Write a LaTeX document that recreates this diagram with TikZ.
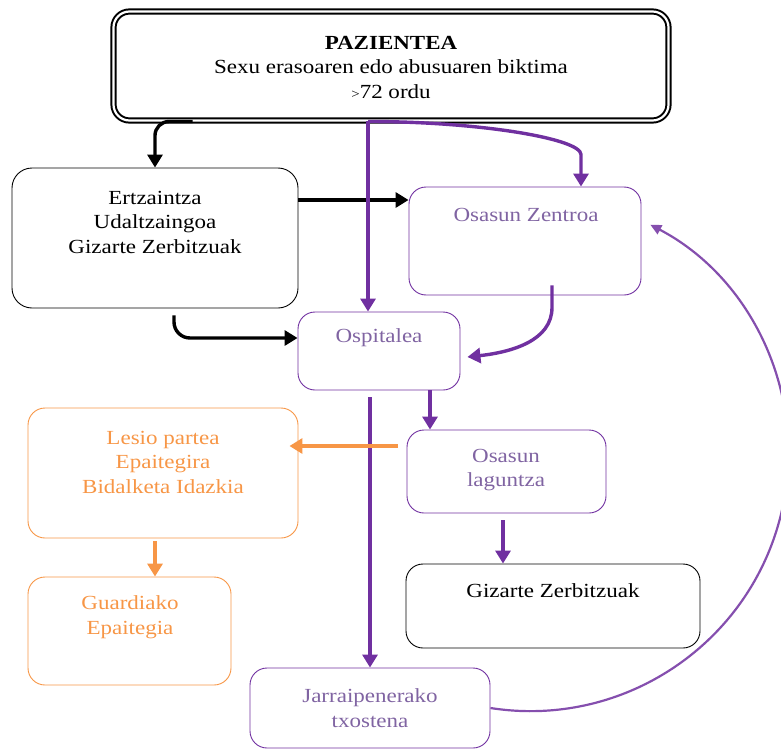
\documentclass[tikz,border=0pt]{standalone}
\usepackage{fontspec}
\setmainfont{Liberation Serif}[FakeStretch=1.15]
\usetikzlibrary{arrows.meta,calc}
\definecolor{purp}{HTML}{7030A0}
\definecolor{ptext}{HTML}{8064A2}
\definecolor{orng}{HTML}{F79646}
\begin{document}
\begin{tikzpicture}[x=1pt,y=-1pt,
  bx/.style={draw, line width=0.9pt, rounded corners=17pt, inner sep=0pt},
  blackbox/.style={bx, draw=black},
  purpbox/.style={bx, draw=purp},
  orngbox/.style={bx, draw=orng},
  txt/.style={align=center, inner sep=0pt, font=\fontsize{20}{24.5}\selectfont},
  ba/.style={line width=3.4pt, draw=black, -{Triangle[length=13pt,width=15pt]}},
  pa/.style={line width=3.4pt, draw=purp, -{Triangle[length=13pt,width=15pt]}},
  oa/.style={line width=3.4pt, draw=orng, -{Triangle[length=13pt,width=15pt]}},
  thinarc/.style={line width=2.2pt, draw=purp!85, -{Triangle[length=11pt,width=10pt]}}]
\useasboundingbox (0,0) rectangle (781,749);
\clip (0,0) rectangle (781,749);
% boxes
\node[draw, double, line width=2pt, double distance=2.2pt, rounded corners=16pt,
      minimum width=555pt, minimum height=109pt] (pac) at (391,66) {};
\node[txt] (pact) at (391,67) {\textbf{PAZIENTEA}\\Sexu erasoaren edo abusuaren biktima\\{\fontsize{13}{13}\selectfont >}72 ordu};
\node[blackbox, rounded corners=20pt, minimum width=286pt, minimum height=140pt] (ert) at (155,238) {};
\node[txt] (ertt) at (155,222) {Ertzaintza\\Udaltzaingoa\\Gizarte Zerbitzuak};
\node[purpbox, minimum width=232pt, minimum height=108pt] (oz) at (525,241) {};
\node[txt, text=ptext] (ozt) at (526,215) {Osasun Zentroa};
\node[purpbox, minimum width=162pt, minimum height=78pt] (osp) at (379,351) {};
\node[txt, text=ptext] (ospt) at (379,338) {Ospitalea};
\node[purpbox, minimum width=199pt, minimum height=83pt] (ol) at (506.5,471.5) {};
\node[txt, text=ptext] (olt) at (506,470) {Osasun\\laguntza};
\node[orngbox, minimum width=270pt, minimum height=130pt] (les) at (163,473) {};
\node[txt, text=orng] (lest) at (163,462) {Lesio partea\\Epaitegira\\Bidalketa Idazkia};
\node[orngbox, minimum width=203pt, minimum height=108pt] (gua) at (129.5,631) {};
\node[txt, text=orng] (guat) at (130,617) {Guardiako\\Epaitegia};
\node[blackbox, minimum width=294pt, minimum height=84pt] (giz) at (553,606) {};
\node[txt] (gizt) at (553,591) {Gizarte Zerbitzuak};
\node[purpbox, minimum width=240pt, minimum height=80pt] (jar) at (370,708) {};
\node[txt, text=ptext] (jart) at (370,708) {Jarraipenerako\\txostena};
% black connectors
\draw[ba, rounded corners=14pt] ([xshift=80pt]pac.south west) -| (ert.north);
\draw[ba] ([yshift=38pt]ert.east) -- ([yshift=38pt]ert.east -| oz.west);
\draw[ba, rounded corners=16pt] ([xshift=19pt,yshift=-7pt]ert.south) |- ([yshift=13pt]osp.west);
% purple connectors
\coordinate (p0) at ([xshift=-11pt]osp.north |- pac.south);
\draw[pa] (p0) -- ([xshift=-11pt]osp.north);
\coordinate (p1) at ([xshift=56pt]oz.north);
\draw[pa] (p0) .. controls ($(p0)+(110,0)$) and ($(p1)+(0,-48)$) .. ($(p1)+(0,-32)$) -- (p1);
\coordinate (p2) at ([xshift=27pt,yshift=10pt]oz.south);
\coordinate (p3) at ([xshift=7pt,yshift=-6pt]osp.east);
\draw[pa] (p2) -- ($(p2)+(0,22)$) .. controls ($(p2)+(0,55)$) and ($(p3)+(45,-5)$) .. (p3);
\draw[pa] ([xshift=51pt]osp.south) -- ([xshift=51pt]osp.south |- ol.north);
\draw[pa] ([xshift=-9pt,yshift=-7pt]osp.south) -- ([xshift=-9pt]osp.south |- jar.north);
\draw[pa] ([xshift=-3.5pt,yshift=-7pt]ol.south) -- ([xshift=-3.5pt]ol.south |- giz.north);
% orange connectors
\draw[oa] ([xshift=-9pt,yshift=25.5pt]ol.west) -- ([xshift=-9pt,yshift=25.5pt]ol.west -| les.east);
\draw[oa] ([xshift=-8pt,yshift=-3pt]les.south) -- ([xshift=-8pt]les.south |- gua.north);
% long arc
\draw[thinarc] (jar.east) arc[start angle=98.9, end angle=-62.3, radius=258];
\end{tikzpicture}
\end{document}
